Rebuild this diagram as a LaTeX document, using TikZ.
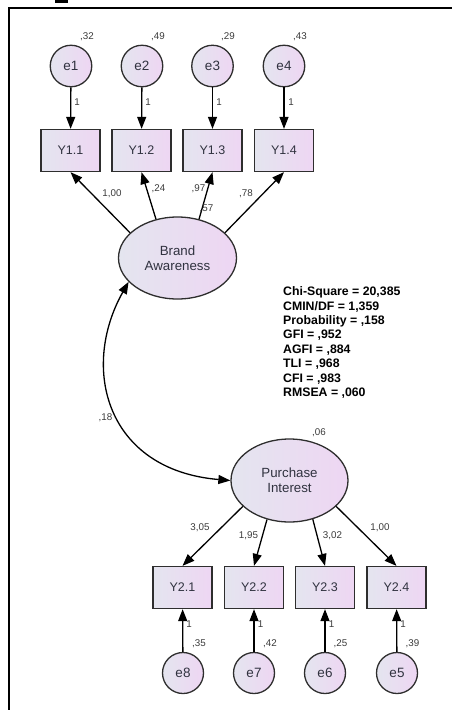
\documentclass[tikz,border=0pt]{standalone}
\usepackage{fontspec}
\setmainfont{Liberation Sans}
\usetikzlibrary{arrows.meta,shapes.geometric}
\definecolor{fillL}{HTML}{E4E5EF}
\definecolor{fillR}{HTML}{EED6F3}
\definecolor{edge}{HTML}{2E2E2E}
\definecolor{ntext}{HTML}{30323F}
\definecolor{ltext}{HTML}{3A3A3A}
\begin{document}
\begin{tikzpicture}[x=1pt,y=-1pt,
  shapebase/.style={draw=edge,line width=1.3pt,left color=fillL,right color=fillR,text=ntext,inner sep=0pt},
  obs/.style={shapebase,rectangle,minimum width=59pt,minimum height=42pt,font=\fontsize{12.5}{14}\selectfont},
  lat/.style={shapebase,ellipse,minimum width=118pt,minimum height=82pt,align=center,font=\fontsize{13.3}{15}\selectfont},
  err/.style={shapebase,circle,minimum size=41.5pt,font=\fontsize{13.5}{15}\selectfont},
  lbl/.style={text=ltext,inner sep=0pt,font=\fontsize{9.8}{11}\selectfont},
  arr/.style={line width=1.3pt,-{Triangle[length=12pt,width=9pt]}},
  dbl/.style={line width=1.3pt,{Triangle[length=12pt,width=9pt]}-{Triangle[length=12pt,width=9pt]}},
  fit/.style={inner sep=0pt,align=left,anchor=north west,font=\fontsize{12.3}{14.4}\bfseries\selectfont}
]
\useasboundingbox (0,0) rectangle (452,710);
% frame
\draw[line width=2pt] (8.5,712) -- (8.5,7.5) -- (454,7.5);
\fill (55,0) rectangle (68,2.5);

% top error terms
\node[err] (e1) at (71,66) {e1};
\node[err] (e2) at (142,66) {e2};
\node[err] (e3) at (212.5,66) {e3};
\node[err] (e4) at (284,66) {e4};
% top indicators
\node[obs] (y11) at (70.5,150.5) {Y1.1};
\node[obs] (y12) at (141.5,150.5) {Y1.2};
\node[obs] (y13) at (212.5,150.5) {Y1.3};
\node[obs] (y14) at (284,150.5) {Y1.4};
% latent
\node[lat] (ba) at (177.5,258) {Brand\\Awareness};
\node[lat,minimum width=117pt,minimum height=83pt] (pi) at (289.5,480.5) {Purchase\\Interest};
% bottom indicators
\node[obs] (y21) at (182.5,587.5) {Y2.1};
\node[obs] (y22) at (254,587.5) {Y2.2};
\node[obs] (y23) at (325,587.5) {Y2.3};
\node[obs] (y24) at (396.5,587.5) {Y2.4};
% bottom error terms
\node[err,minimum size=41pt] (e8) at (183,673) {e8};
\node[err,minimum size=41pt] (e7) at (254,673) {e7};
\node[err,minimum size=41pt] (e6) at (325,673) {e6};
\node[err,minimum size=41pt] (e5) at (397,673) {e5};

% arrows top
\draw[arr] (e1) -- (y11);
\draw[arr] (e2) -- (y12);
\draw[arr] (e3) -- (y13);
\draw[arr] (e4) -- (y14);
\draw[arr] (ba.152) -- (y11.south);
\draw[arr] (ba.119) -- (y12.south);
\draw[arr] (ba.61) -- (y13.south);
\draw[arr] (ba.28) -- (y14.south);
% arrows bottom
\draw[arr] (pi.209) -- (y21.north);
\draw[arr] (pi.240) -- (y22.north);
\draw[arr] (pi.301) -- (y23.north);
\draw[arr] (pi.331) -- (y24.north);
\draw[arr] (e8) -- (y21);
\draw[arr] (e7) -- (y22);
\draw[arr] (e6) -- (y23);
\draw[arr] (e5) -- (y24);
% covariance
\draw[dbl] (ba.206) .. controls (80,368) and (106,470) .. (pi.west);

% labels
\node[lbl] (v1) at (87,37) {,32};
\node[lbl] (v2) at (158,37) {,49};
\node[lbl] (v3) at (228,37) {,29};
\node[lbl] (v4) at (300,37) {,43};
\node[lbl] (o1) at (77,102) {1};
\node[lbl] (o2) at (148,102) {1};
\node[lbl] (o3) at (219,102) {1};
\node[lbl] (o4) at (291,102) {1};
\node[lbl] (l1) at (112,193.5) {1,00};
\node[lbl] (l2) at (158.5,189) {,24};
\node[lbl] (l3) at (198.5,189) {,97};
\node[lbl] (l4) at (246,194) {,78};
\node[lbl] (r2) at (206.5,208.5) {,57};
\node[lbl] (cv) at (105.5,418) {,18};
\node[lbl] (r1) at (319,432.5) {,06};
\node[lbl] (m1) at (200,528) {3,05};
\node[lbl] (m2) at (248.5,536) {1,95};
\node[lbl] (m3) at (332.5,536) {3,02};
\node[lbl] (m4) at (380,528) {1,00};
\node[lbl] (q1) at (189,624.5) {1};
\node[lbl] (q2) at (260.5,624.5) {1};
\node[lbl] (q3) at (331.5,624.5) {1};
\node[lbl] (q4) at (403,624.5) {1};
\node[lbl] (w1) at (199,643.5) {,35};
\node[lbl] (w2) at (270,643.5) {,42};
\node[lbl] (w3) at (340.5,643.5) {,25};
\node[lbl] (w4) at (412.5,643.5) {,39};

% fit indices
\node[fit] (fitbox) at (283,286.5) {Chi-Square = 20,385\\CMIN/DF = 1,359\\Probability = ,158\\GFI = ,952\\AGFI = ,884\\TLI = ,968\\CFI = ,983\\RMSEA = ,060};
\end{tikzpicture}
\end{document}
